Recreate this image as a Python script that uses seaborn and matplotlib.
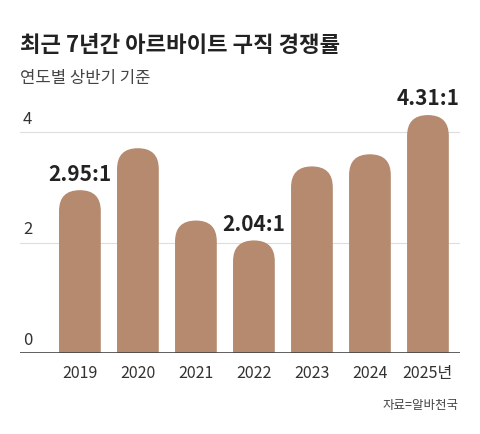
import matplotlib
matplotlib.use("Agg")
import matplotlib.pyplot as plt
import seaborn as sns
import pandas as pd
from matplotlib.patches import FancyBboxPatch

years = ["2019", "2020", "2021", "2022", "2023", "2024", "2025년"]
ratios = [2.95, 3.71, 2.40, 2.04, 3.38, 3.60, 4.31]
labels = {0: "2.95:1", 3: "2.04:1", 6: "4.31:1"}
yticks = [0, 2, 4]

sns.set_style("white")
plt.rcParams["font.family"] = ["Noto Sans CJK KR", "DejaVu Sans"]

bar_color = "#B58A6F"
df = pd.DataFrame({"year": years, "ratio": ratios})

fig = plt.figure(figsize=(4.8, 4.35), dpi=100)
ax = fig.add_axes([0.042, 0.186, 0.916, 0.584])
sns.barplot(data=df, x="year", y="ratio", color=bar_color, width=0.72, ax=ax)

# swap plain bars for round-topped ones
for p in ax.patches:
    x, w, h = p.get_x(), p.get_width(), p.get_height()
    p.set_visible(False)
    ax.add_patch(FancyBboxPatch((x, -1), w, h + 1,
                                boxstyle="round,pad=0,rounding_size=0.36",
                                mutation_aspect=1.05, fc=bar_color, ec="none",
                                clip_on=True, zorder=2))

ax.set_xlim(-1.03, 6.55)
ax.set_ylim(0, 4.6)
for t in yticks:
    if t == 0:
        ax.axhline(0, color="#444444", lw=1.2, zorder=3)
    else:
        ax.axhline(t, color="#dddddd", lw=0.8, zorder=1)
    ax.text(-0.98, t + 0.1, str(t), fontsize=12, color="#333333", va="bottom", ha="left")

for i, s in labels.items():
    ax.text(i, ratios[i] + 0.12, s, ha="center", va="bottom", fontsize=15,
            fontweight="bold", color="#222222")

ax.set_yticks([])
ax.set_xlabel("")
ax.set_ylabel("")
ax.tick_params(axis="x", length=0, labelsize=11.5, labelcolor="#333333", pad=8)
sns.despine(ax=ax, left=True, bottom=True)

fig.text(0.042, 0.88, "최근 7년간 아르바이트 구직 경쟁률", fontsize=16, fontweight="bold", color="#222222")
fig.text(0.042, 0.81, "연도별 상반기 기준", fontsize=12, color="#444444")
fig.text(0.955, 0.06, "자료=알바천국", fontsize=9, color="#444444", ha="right")

fig.savefig("out.png", dpi=100)
